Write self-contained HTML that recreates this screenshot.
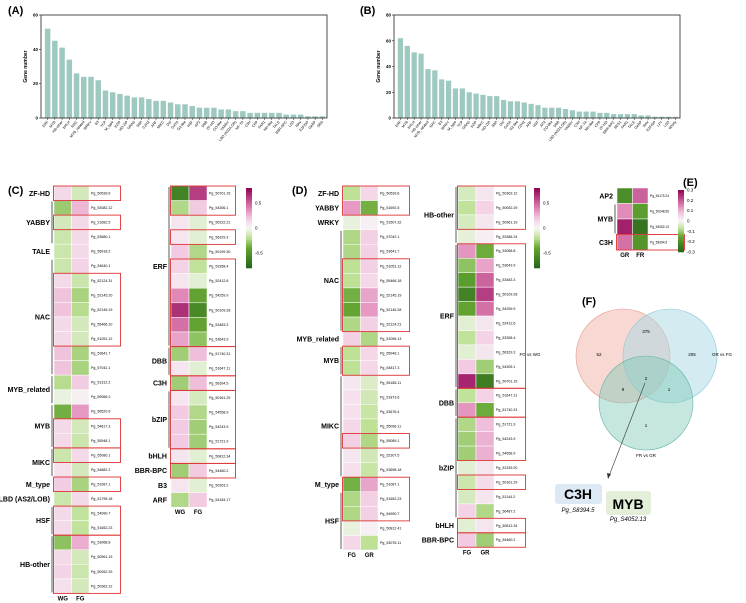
<!DOCTYPE html>
<html><head><meta charset="utf-8"><style>
html,body{margin:0;padding:0;background:#fff;width:746px;height:603px;overflow:hidden}
svg{display:block;font-family:"Liberation Sans",Arial,sans-serif}
</style></head><body>
<svg id="fig" width="746" height="603" viewBox="0 0 746 603" xmlns="http://www.w3.org/2000/svg">
<text x="8" y="14" font-size="11" font-weight="bold">(A)</text>
<text x="360" y="14" font-size="11" font-weight="bold">(B)</text>
<text x="8" y="194" font-size="11" font-weight="bold">(C)</text>
<text x="292" y="194" font-size="11" font-weight="bold">(D)</text>
<text x="683" y="186" font-size="11" font-weight="bold">(E)</text>
<text x="582" y="305" font-size="11" font-weight="bold">(F)</text>
<g id="venn">
<circle cx="623" cy="356" r="47" fill="#f2b8ad" fill-opacity="0.55" stroke="#e89a8e" stroke-width="0.6"/>
<circle cx="670" cy="356" r="47" fill="#a9d8e3" fill-opacity="0.5" stroke="#8cc8d6" stroke-width="0.6"/>
<circle cx="646" cy="403" r="47" fill="#7fcab9" fill-opacity="0.45" stroke="#5fb5a3" stroke-width="0.6"/>
<g font-size="4.5" text-anchor="middle">
<text x="599" y="356">52</text>
<text x="646" y="333">375</text>
<text x="692" y="356">205</text>
<text x="623" y="391">9</text>
<text x="646" y="380">2</text>
<text x="669" y="391">1</text>
<text x="646" y="427">1</text>
<text x="530" y="356">FG vs WG</text>
<text x="722" y="356">GR vs FG</text>
<text x="646" y="457">FR vs GR</text>
</g>
<line x1="645" y1="383" x2="609" y2="476" stroke="#333" stroke-width="0.6"/>
<polygon points="608,479 607,473 611,474" fill="#333"/>
<rect x="555" y="484" width="47" height="20" rx="3" fill="#dce8f4"/>
<text x="578" y="499" font-size="14" font-weight="bold" text-anchor="middle">C3H</text>
<text x="578" y="512" font-size="6" font-style="italic" text-anchor="middle">Pg_S8394.5</text>
<rect x="606" y="491" width="45" height="24" rx="3" fill="#e3efd9"/>
<text x="628" y="509" font-size="14" font-weight="bold" text-anchor="middle">MYB</text>
<text x="628" y="521" font-size="6" font-style="italic" text-anchor="middle">Pg_S4052.13</text>
</g>
</svg>
<script>
const NS="http://www.w3.org/2000/svg";
const svg=document.getElementById('fig');
function mk(tag,attrs,parent){const e=document.createElementNS(NS,tag);for(const k in attrs)e.setAttribute(k,attrs[k]);(parent||svg).appendChild(e);return e;}

// ---------- Bar chart data ----------
const catsA=["ERF","MYB","HB-other","bHLH","NAC","MYB_related","WRKY","B3","TCP","M_type","bZIP","HD-ZIP","GRAS","SBP","C2H2","ARF","MIKC","Dof","GATA","G2-like","HSF","AP2","DBB","ZF-HD","CO-like","YABBY","LBD (AS2/LOB)","NF-YA","C3H","CPP","FAR1","Nin-like","TALE","BBR-BPC","LSD","RAV","E2F/DP","GeBP","SRS"];
const valsA=[52,45,41,34,26,24,24,22,16,15,14,13,12,12,11,10,10,9,8,8,7,6,6,6,5,5,4,4,3,3,3,3,3,2,2,2,1,1,1];
const ticksA=[0,20,40,60];
const catsB=["ERF","MYB","bHLH","HB-other","MYB_related","NAC","B3","WRKY","M_type","TCP","GRAS","bZIP","MIKC","HD-ZIP","SBP","Dof","GATA","G2-like","C2H2","ARF","HSF","AP2","CO-like","DBB","LBD (AS2/LOB)","YABBY","C3H","NF-YA","Nin-like","CPP","ZF-HD","BBR-BPC","BES1","FAR1","TALE","GeBP","RAV","E2F/DP","LFY","LSD","Whirly"];
const valsB=[62,56,51,50,38,37,30,29,23,23,20,19,18,17,17,14,13,13,12,11,10,8,8,8,7,6,5,5,5,4,4,3,3,3,3,2,2,1,1,1,1];
const ticksB=[0,20,40,60,80];

function barChart(id,cats,vals,ticks,x0,x1,y0,y1,ymax){
  const g=mk('g',{});
  
  
  const ys=v=>y1-(v/ymax)*(y1-y0);
  const n=cats.length, step=(x1-x0-4)/n;
  const xs=i=>x0+3+i*step;
  cats.forEach((c,i)=>{
    const r=mk('rect',{x:xs(i)+step*0.12,y:ys(vals[i]),width:step*0.76,height:y1-ys(vals[i]),fill:'#9ec9c0'},g);
    
    
    const cx=xs(i)+step/2;
    mk('line',{x1:cx,y1:y1,x2:cx,y2:y1+2,stroke:'#222','stroke-width':0.5},g);
    const t=mk('text',{x:cx+1,y:y1+4,'font-size':3.6,'text-anchor':'end',transform:`rotate(-50 ${cx+1} ${y1+4})`},g);
    t.textContent=c;
    
    
  });
  const fr=mk('rect',{x:x0,y:y0,width:x1-x0,height:y1-y0,fill:'none',stroke:'#222','stroke-width':0.8},g);
  
  
  ticks.forEach(v=>{
    mk('line',{x1:x0-2,y1:ys(v),x2:x0,y2:ys(v),stroke:'#222','stroke-width':0.6},g);
    const t=mk('text',{x:x0-3,y:ys(v)+1.5,'font-size':4.5,'font-weight':'bold','text-anchor':'end'},g);
    t.textContent=v;
    
    
  });
  const yl=mk('text',{x:x0-14,y:(y0+y1)/2,'font-size':5,'font-weight':'bold','text-anchor':'middle',transform:`rotate(-90 ${x0-14} ${(y0+y1)/2})`},g);
  yl.textContent='Gene number';
  
  
}
barChart('bar-chart-a',catsA,valsA,ticksA,41,327,15,118,60);
barChart('bar-chart-b',catsB,valsB,ticksB,394,680,15,118,80);

// ---------- Heatmap data ----------
const genesC1=["Pg_50539.6","Pg_53082.12","Pg_21682.5","Pg_53680.1","Pg_56918.2","Pg_54640.1","Pg_52124.31","Pg_52145.20","Pg_52145.19","Pg_55466.10","Pg_51051.12","Pg_53641.7","Pg_57042.1","Pg_51312.2","Pg_59066.2","Pg_56520.6","Pg_54817.3","Pg_55948.1","Pg_55080.1","Pg_54882.2","Pg_51087.1","Pg_51795.18","Pg_54990.7","Pg_51652.23","Pg_53068.8","Pg_50961.19","Pg_50052.29","Pg_50363.12"];
const valsC1a=[0.2,-0.45,-0.2,-0.25,-0.25,-0.25,0.2,0.35,0.35,0.2,0.2,0.35,0.35,-0.35,-0.08,-0.6,0.2,0.2,-0.25,0.15,0.3,-0.25,0.2,0.2,-0.5,0.2,0.25,0.15];
const valsC1b=[-0.2,0.4,0.2,0.2,0.2,0.25,-0.25,-0.4,-0.35,-0.2,-0.2,-0.4,-0.4,0.3,0.05,0.55,-0.2,-0.25,0.2,-0.2,-0.4,0.2,-0.3,-0.3,0.45,-0.2,-0.25,-0.2];
const groupsC1=[["ZF-HD",0,1,0],["YABBY",1,3,1],["TALE",4,1,0],["NAC",5,8,1],["MYB_related",13,2,1],["MYB",15,3,1],["MIKC",18,2,1],["M_type",20,1,0],["LBD (AS2/LOB)",21,1,0],["HSF",22,2,1],["HB-other",24,4,1]];
const boxesC1=[[0,1],[2,1],[6,5],[16,2],[18,1],[20,1],[22,2],[24,4]];

const genesC2=["Pg_50701.15","Pg_54306.1","Pg_50222.21","Pg_56329.3","Pg_50199.30","Pg_53358.4","Pg_52412.6","Pg_54259.9","Pg_50109.28","Pg_53483.3","Pg_53643.9","Pg_51740.31","Pg_51647.11","Pg_56394.5","Pg_50161.29","Pg_54558.9","Pg_54243.9","Pg_51721.9","Pg_50812.34","Pg_54460.2","Pg_50303.2","Pg_54184.17"];
const valsC2a=[-0.8,-0.3,0.1,0.1,0.25,0.2,0.1,0.5,0.85,0.6,0.4,-0.35,0.1,-0.35,0.1,0.25,0.25,0.25,0.1,-0.35,0.1,-0.3];
const valsC2b=[0.8,0.25,-0.1,-0.1,-0.3,-0.25,-0.1,-0.55,-0.75,-0.55,-0.4,0.3,-0.1,0.3,-0.15,-0.3,-0.35,-0.35,-0.1,0.25,-0.1,0.25];
const groupsC2=[["ERF",0,11,1],["DBB",11,2,1],["C3H",13,1,0],["bZIP",14,4,1],["bHLH",18,1,0],["BBR-BPC",19,1,0],["B3",20,1,0],["ARF",21,1,0]];
const boxesC2=[[0,2],[3,1],[5,6],[11,2],[13,1],[14,4],[18,1],[19,1]];

const genesD1=["Pg_50539.6","Pg_51692.5","Pg_51507.32","Pg_57042.1","Pg_53641.7","Pg_51051.12","Pg_55466.18","Pg_52145.19","Pg_52145.28","Pg_52124.21","Pg_51056.13","Pg_55948.1","Pg_54817.3","Pg_55185.11","Pg_51873.6","Pg_53676.4","Pg_55096.11","Pg_55089.1","Pg_52307.5","Pg_53698.18","Pg_51087.1","Pg_51652.23","Pg_54990.7","Pg_50812.41","Pg_53076.11"];
const valsD1a=[-0.3,0.5,-0.08,-0.35,-0.35,-0.3,-0.3,-0.55,-0.6,-0.35,0.25,-0.3,-0.3,0.1,0.15,0.15,0.2,0.25,0.1,0.15,-0.55,-0.35,-0.35,-0.08,0.2];
const valsD1b=[0.2,-0.55,0.05,0.25,0.25,0.25,0.2,0.45,0.5,0.25,-0.35,0.2,0.2,-0.15,-0.2,-0.25,-0.3,-0.35,-0.2,-0.25,0.45,0.25,0.25,0.05,-0.3];
const groupsD1=[["ZF-HD",0,1,0],["YABBY",1,1,0],["WRKY",2,1,0],["NAC",3,7,1],["MYB_related",10,1,0],["MYB",11,2,1],["MIKC",13,7,1],["M_type",20,1,0],["HSF",21,4,1]];
const boxesD1=[[0,2],[5,5],[11,2],[17,1],[20,3]];

const genesD2=["Pg_50363.12","Pg_50052.29","Pg_50961.19","Pg_53386.24","Pg_53068.8","Pg_53643.9","Pg_53483.3","Pg_50109.28","Pg_54259.9","Pg_52412.6","Pg_53358.4","Pg_56329.3","Pg_54305.1","Pg_50701.15","Pg_51647.11","Pg_51740.31","Pg_51721.9","Pg_54243.9","Pg_54558.9","Pg_51339.20","Pg_50161.29","Pg_51144.2","Pg_56487.2","Pg_50812.34","Pg_54460.2"];
const valsD2a=[-0.15,-0.25,-0.15,-0.08,0.45,-0.4,-0.6,-0.8,-0.55,-0.1,-0.25,-0.1,0.25,0.9,-0.25,0.45,-0.3,-0.35,-0.35,-0.1,-0.2,-0.15,0.2,-0.1,0.25];
const valsD2b=[0.1,0.2,0.1,0.05,-0.5,0.4,0.65,0.8,0.6,0.1,0.2,0.1,-0.35,-0.85,0.2,-0.5,0.3,0.35,0.35,0.1,0.15,0.1,-0.3,0.1,-0.35];
const groupsD2=[["HB-other",0,4,1],["ERF",4,10,1],["DBB",14,2,1],["bZIP",16,7,1],["bHLH",23,1,0],["BBR-BPC",24,1,0]];
const boxesD2=[[0,3],[4,10],[14,2],[16,3],[20,1],[23,1],[24,1]];

const genesE=["Pg_54175.24","Pg_50248.56","Pg_54052.13","Pg_58394.5"];
const valsEa=[-0.22,0.15,0.28,0.18];
const valsEb=[0.2,-0.18,-0.28,-0.2];
const groupsE=[["AP2",0,1,0],["MYB",1,2,1],["C3H",3,1,0]];
const boxesE=[[3,1]];

// PiYG-like colour scale on [-1,1]
const stops=[[-1,[39,100,25]],[-0.5,[100,165,50]],[-0.25,[190,225,150]],[0,[247,247,247]],[0.25,[242,200,224]],[0.5,[222,130,180]],[1,[142,1,82]]];
function col(v){v=Math.max(-1,Math.min(1,v));for(let i=0;i<stops.length-1;i++){const[a,ca]=stops[i],[b,cb]=stops[i+1];if(v<=b){const t=(v-a)/(b-a);return 'rgb('+ca.map((c,k)=>Math.round(c+(cb[k]-c)*t)).join(',')+')';}}return 'rgb(142,1,82)';}

function heat(id,genes,va,vb,groups,boxes,x0,y0,cw,rh,boxW,cols,fs,scale){
  const g=mk('g',{});
  
  
  genes.forEach((gn,i)=>{
    [va[i],vb[i]].forEach((v,j)=>{
      const r=mk('rect',{x:x0+j*cw,y:y0+i*rh,width:cw,height:rh,fill:col(v/scale),stroke:'#fff','stroke-width':0.5},g);
      
      
    });
    const t=mk('text',{x:x0+2*cw+2,y:y0+i*rh+rh/2+1.2,'font-size':fs},g);
    t.textContent=gn;
    
    
  });
  groups.forEach(([lab,s,n,br])=>{
    const cy=y0+(s+n/2)*rh;
    const t=mk('text',{x:x0-4,y:cy+2.5,'font-size':7,'font-weight':'bold','text-anchor':'end'},g);
    t.textContent=lab;
    
    
    if(br){const l=mk('line',{x1:x0-2,y1:y0+s*rh+1,x2:x0-2,y2:y0+(s+n)*rh-1,stroke:'#777','stroke-width':1.2},g);
      
      }
  });
  boxes.forEach(([s,n])=>{
    const b=mk('rect',{x:x0-0.5,y:y0+s*rh,width:boxW,height:n*rh,fill:'none',stroke:'#d33','stroke-width':0.9},g);
    
    
  });
  cols.forEach((c,j)=>{
    const t=mk('text',{x:x0+j*cw+cw/2,y:y0+genes.length*rh+7,'font-size':6,'font-weight':'bold','text-anchor':'middle'},g);
    t.textContent=c;
    
    
  });
}
heat('heatmap-c-left',genesC1,valsC1a,valsC1b,groupsC1,boxesC1,54,186,17.5,14.55,67,["WG","FG"],3.6,1.3);
heat('heatmap-c-right',genesC2,valsC2a,valsC2b,groupsC2,boxesC2,171,186,18,14.6,65,["WG","FG"],3.6,1.05);
heat('heatmap-d-left',genesD1,valsD1a,valsD1b,groupsD1,boxesD1,343,186,17.5,14.56,67,["FG","GR"],3.6,1.2);
heat('heatmap-d-right',genesD2,valsD2a,valsD2b,groupsD2,boxesD2,458,186,18,14.45,68,["FG","GR"],3.6,1.05);
heat('heatmap-e',genesE,valsEa,valsEb,groupsE,boxesE,617,188,15.5,15.5,68,["GR","FR"],3.2,0.32);

function colorbar(id,x,y,w,h,ticks,maxv){
  const g=mk('g',{});
  
  
  const n=40;
  for(let i=0;i<n;i++){const v=1-2*(i+0.5)/n;mk('rect',{x:x,y:y+i*h/n,width:w,height:h/n+0.3,fill:col(v)},g);}
  ticks.forEach(t=>{const ty=y+(1-t/maxv)/2*h;
    const tx=mk('text',{x:x+w+3,y:ty+1.5,'font-size':4.5},g);
    tx.textContent=t;
    
    });
}
colorbar('colorbar-c',246,188,6,80,[0.5,0,-0.5],0.8);
colorbar('colorbar-d',534,188,6,80,[0.5,0,-0.5],0.8);
colorbar('colorbar-e',678,190,6,62,[0.3,0.2,0.1,0,-0.1,-0.2,-0.3],0.3);
</script>
</body></html>
